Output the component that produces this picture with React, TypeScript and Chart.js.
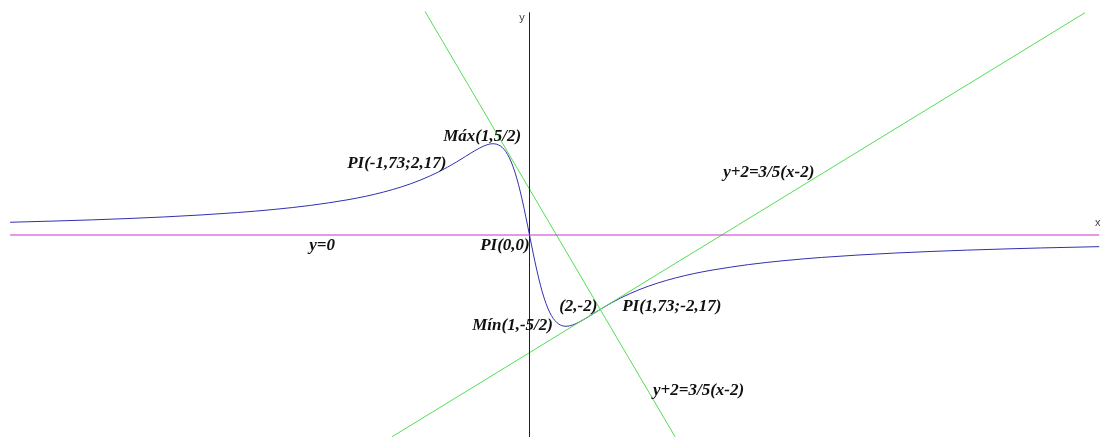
import React, { useEffect, useRef } from "react";
import { Chart, registerables } from "chart.js";

Chart.register(...registerables);

// Curve y = f(x) (x in units, y in units)
const curveX = [
  -14.23, -13, -12, -11, -10, -9, -8, -7, -6, -5, -4.5, -4, -3.5, -3, -2.5, -2.25, -2, -1.75, -1.5, -1.25, -1.1, -1,
  -0.9, -0.8, -0.7, -0.6, -0.5, -0.4, -0.3, -0.2, -0.1, 0, 0.1, 0.2, 0.3, 0.4, 0.5, 0.6, 0.7, 0.8, 0.9, 1, 1.1, 1.25,
  1.5, 1.75, 2, 2.25, 2.5, 3, 3.5, 4, 4.5, 5, 6, 7, 8, 9, 10, 11, 12, 13, 14, 15.61,
];
const curveY = [
  0.349, 0.383, 0.414, 0.451, 0.495, 0.549, 0.615, 0.7, 0.811, 0.962, 1.058, 1.176, 1.321, 1.5, 1.724, 1.856, 2.0,
  2.155, 2.308, 2.439, 2.489, 2.5, 2.486, 2.439, 2.349, 2.206, 2.0, 1.724, 1.376, 0.962, 0.495, 0, -0.495, -0.962,
  -1.376, -1.724, -2.0, -2.206, -2.349, -2.439, -2.486, -2.5, -2.489, -2.439, -2.308, -2.155, -2.0, -1.856, -1.724,
  -1.5, -1.321, -1.176, -1.058, -0.962, -0.811, -0.7, -0.615, -0.549, -0.495, -0.451, -0.414, -0.383, -0.355, -0.319,
];

// Axes segments
const xAxisSeg = [[-14.23, 0], [15.61, 0]];
const yAxisSeg = [[0, 6.09], [0, -5.6]];

// Straight lines (endpoints)
const tangentUp = [[-3.77, -5.53], [15.22, 6.09]];
const lineDown = [[-2.86, 6.12], [3.99, -5.53]];

// Text labels: text, x, y (left baseline, data units)
const labelTexts = ["Máx(1,5/2)", "PI(-1,73;2,17)", "y=0", "PI(0,0)", "(2,-2)", "PI(1,73;-2,17)", "Mín(1,-5/2)", "y+2=3/5(x-2)", "y+2=3/5(x-2)"];
const labelX = [-2.364, -4.995, -6.036, -1.351, 0.814, 2.54, -1.57, 5.307, 3.384];
const labelY = [2.584, 1.844, -0.403, -0.403, -2.075, -2.075, -2.595, 1.597, -4.375];

const axisNames = ["y", "x"];
const axisNameX = [-0.28, 15.49];
const axisNameY = [5.87, 0.255];

const toPts = (seg: number[][]) => seg.map(([x, y]) => ({ x, y }));

export default function App() {
  const ref = useRef<HTMLCanvasElement>(null);
  useEffect(() => {
    if (!ref.current) return;
    const labelPlugin = {
      id: "labels",
      afterDatasetsDraw(chart: any) {
        const { ctx, scales } = chart;
        ctx.save();
        ctx.textBaseline = "alphabetic";
        ctx.textAlign = "left";
        ctx.fillStyle = "#111";
        ctx.font = "italic bold 17px 'Liberation Serif'";
        labelTexts.forEach((t, i) => {
          ctx.fillText(t, scales.x.getPixelForValue(labelX[i]), scales.y.getPixelForValue(labelY[i]));
        });
        ctx.fillStyle = "#444";
        ctx.font = "11px 'Liberation Sans'";
        axisNames.forEach((t, i) => {
          ctx.fillText(t, scales.x.getPixelForValue(axisNameX[i]), scales.y.getPixelForValue(axisNameY[i]));
        });
        ctx.restore();
      },
    };
    const chart = new Chart(ref.current, {
      type: "scatter",
      data: {
        datasets: [
          { data: toPts(xAxisSeg), borderColor: "#cc33cc", borderWidth: 1.2, showLine: true, pointRadius: 0 },
          { data: toPts(yAxisSeg), borderColor: "#222222", borderWidth: 1, showLine: true, pointRadius: 0 },
          { data: toPts(tangentUp), borderColor: "#55dd55", borderWidth: 1, showLine: true, pointRadius: 0 },
          { data: toPts(lineDown), borderColor: "#55dd55", borderWidth: 1, showLine: true, pointRadius: 0 },
          {
            data: curveX.map((x, i) => ({ x, y: curveY[i] })),
            borderColor: "#3030b0",
            borderWidth: 1,
            showLine: true,
            pointRadius: 0,
            cubicInterpolationMode: "monotone",
          },
        ],
      },
      options: {
        animation: false,
        responsive: false,
        maintainAspectRatio: false,
        layout: { padding: 0 },
        plugins: { legend: { display: false }, tooltip: { enabled: false } },
        scales: {
          x: { type: "linear", min: -14.507, max: 15.822, display: false },
          y: { type: "linear", min: -5.534, max: 6.438, display: false },
        },
      },
      plugins: [labelPlugin],
    } as any);
    return () => chart.destroy();
  }, []);
  return (
    <div style={{ position: "fixed", left: 0, top: 0, width: 1107, height: 437, background: "#fff" }}>
      <canvas ref={ref} width={1107} height={437} />
    </div>
  );
}
